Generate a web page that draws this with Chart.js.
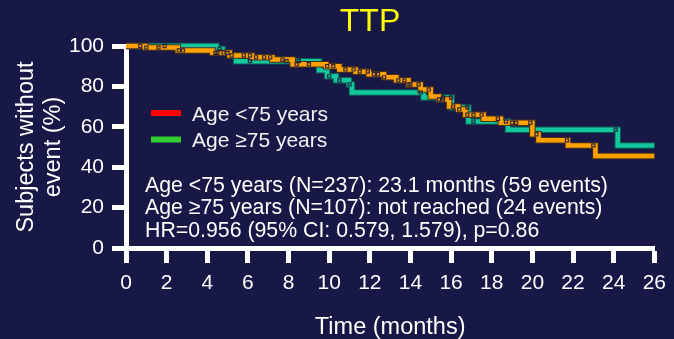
<!DOCTYPE html>
<html>
<head>
<meta charset="utf-8">
<script src="https://cdn.jsdelivr.net/npm/chart.js@4/dist/chart.umd.min.js"></script>
<style>
  html, body { margin: 0; padding: 0; background: #171846; }
  #wrap { width: 674px; height: 339px; }
</style>
</head>
<body>
<div id="wrap"><canvas id="c" width="674" height="339"></canvas></div>
<script>
// Text
const chartTitle = 'TTP';
const xTitle = 'Time (months)';
const yTitle = ['Subjects without', 'event (%)'];
const legendLabels = ['Age <75 years', 'Age \u226575 years'];
const summaryLines = [
  'Age <75 years (N=237): 23.1 months (59 events)',
  'Age \u226575 years (N=107): not reached (24 events)',
  'HR=0.956 (95% CI: 0.579, 1.579), p=0.86'
];

// Axis ticks
const xTicks = [0, 2, 4, 6, 8, 10, 12, 14, 16, 18, 20, 22, 24, 26];
const yTicks = [0, 20, 40, 60, 80, 100];

// Kaplan-Meier steps: time of each step (months) and % without event after it
const under75Months = [0, 0.95, 2.55, 4.25, 5.1, 6.2, 7.2, 8.2, 9.85, 10.5, 11.3, 11.95, 12.7, 13.3, 13.9, 14.5, 15.0, 15.4, 15.9, 16.35, 16.7, 17.6, 18.45, 20.0, 20.3, 21.75, 23.1, 26.0];
const under75Pct    = [100, 99.2, 97.8, 96.6, 95.3, 94.4, 93.3, 91.0, 90.0, 88.4, 87.3, 86.0, 84.5, 83.0, 81.0, 78.5, 75.0, 73.5, 70.0, 68.6, 66.0, 64.0, 62.0, 56.3, 53.3, 50.8, 45.6, 45.6];

const over75Months = [0, 4.45, 4.75, 5.1, 5.42, 9.5, 9.9, 10.33, 10.97, 11.12, 14.64, 16.03, 16.85, 18.8, 24.2, 26.0];
const over75Pct    = [100, 98.5, 96.8, 95.3, 92.5, 88.0, 85.0, 83.0, 81.0, 77.0, 74.5, 69.6, 62.6, 58.6, 50.8, 50.8];

// Censored observations (months)
const under75Censored = [1.0, 1.6, 2.6, 2.8, 4.4, 4.5, 5.0, 5.8, 6.1, 6.4, 6.8, 7.1, 7.7, 8.4, 9.0, 9.9, 10.2, 10.8, 11.2, 11.5, 11.9, 12.2, 12.4, 12.7, 13.4, 13.7, 13.9, 14.0, 14.4, 14.9, 15.4, 15.6, 16.1, 16.4, 16.8, 17.1, 17.5, 18.3, 19.0, 19.2, 19.9, 20.2, 21.7, 23.0];
const over75Censored  = [0.7, 1.9, 4.6, 4.8, 5.2, 6.1, 7.9, 8.5, 10.0, 10.5, 11.0, 14.5, 15.6, 16.0, 16.8, 17.1, 18.7, 24.1];

const FONT = "'Liberation Sans', Arial, Helvetica, sans-serif";
const WHITE = '#ffffff';
const ORANGE = '#ffa200';
const TEAL = '#12c79c';

function survivalAt(months, pct, t) {
  let v = pct[0];
  for (let i = 0; i < months.length; i++) {
    if (months[i] <= t) v = pct[i]; else break;
  }
  return v;
}
const toPoints = (m, p) => m.map((x, i) => ({ x: x, y: p[i] }));
const censorPoints = (c, m, p) => c.map(t => ({ x: t, y: survivalAt(m, p, t) }));

const stepLine = (data, color, width, order) => ({
  type: 'line', data: data, borderColor: color, borderWidth: width,
  stepped: 'before', pointRadius: 0, fill: false, clip: false, order: order,
  borderCapStyle: 'butt', borderJoinStyle: 'miter'
});
const censorSet = (data, order) => ({
  type: 'scatter', data: data, showLine: false, pointStyle: 'rect',
  pointRadius: 2.2, borderWidth: 1.2, borderColor: 'rgba(30,28,60,0.9)',
  backgroundColor: 'rgba(0,0,0,0)', clip: false, order: order
});

const overlay = {
  id: 'overlay',
  beforeDraw(chart) {
    const ctx = chart.ctx;
    ctx.save();
    ctx.fillStyle = '#171846';
    ctx.fillRect(0, 0, chart.width, chart.height);
    ctx.restore();
  },
  afterDraw(chart) {
    const ctx = chart.ctx;
    ctx.save();
    // title
    ctx.fillStyle = '#ffff00';
    ctx.font = '32px ' + FONT;
    ctx.textAlign = 'center';
    ctx.textBaseline = 'middle';
    ctx.fillText(chartTitle, 370, 22);
    // legend
    const legendColors = ['#ff0000', '#33cc33'];
    ctx.font = '21px ' + FONT;
    ctx.textAlign = 'left';
    legendLabels.forEach((lbl, i) => {
      const y = 113 + i * 26.5;
      ctx.fillStyle = legendColors[i];
      ctx.fillRect(151, y - 3, 30, 6);
      ctx.fillStyle = '#f2f2f2';
      ctx.fillText(lbl, 192, y + 2);
    });
    // summary text
    ctx.font = '21.3px ' + FONT;
    ctx.fillStyle = WHITE;
    summaryLines.forEach((line, i) => {
      ctx.fillText(line, 145, 186 + i * 22.5);
    });
    ctx.restore();
  }
};

const tickFont = { family: FONT, size: 21 };
const titleFont = { family: FONT, size: 23.5, lineHeight: 1.15 };

new Chart(document.getElementById('c'), {
  data: {
    datasets: [
      censorSet(censorPoints(under75Censored, under75Months, under75Pct), 0),
      censorSet(censorPoints(over75Censored, over75Months, over75Pct), 1),
      stepLine(toPoints(under75Months, under75Pct), ORANGE, 4.5, 2),
      stepLine(toPoints(under75Months, under75Pct), '#4a3018', 6.5, 3),
      stepLine(toPoints(over75Months, over75Pct), TEAL, 4.5, 4),
      stepLine(toPoints(over75Months, over75Pct), '#0d5a52', 6.5, 5)
    ]
  },
  options: {
    responsive: false,
    devicePixelRatio: 1,
    animation: false,
    layout: { padding: { top: 46, right: 17, left: 0, bottom: 0 } },
    plugins: { legend: { display: false }, tooltip: { enabled: false }, title: { display: false } },
    scales: {
      x: {
        type: 'linear', min: 0, max: 26,
        afterBuildTicks: s => { s.ticks = xTicks.map(v => ({ value: v })); },
        afterFit: s => { s.height = 91; },
        ticks: { color: WHITE, font: tickFont, padding: 8, maxRotation: 0, autoSkip: false },
        grid: { display: true, drawOnChartArea: false, drawTicks: true, tickLength: 15, tickWidth: 5, tickColor: WHITE },
        border: { display: true, color: WHITE, width: 5 },
        title: { display: true, text: xTitle, color: WHITE, font: titleFont, padding: { top: 0, bottom: -2 } }
      },
      y: {
        type: 'linear', min: 0, max: 100,
        afterBuildTicks: s => { s.ticks = yTicks.map(v => ({ value: v })); },
        afterFit: s => { s.width = 126; },
        ticks: { color: WHITE, font: tickFont, padding: 8 },
        grid: { display: true, drawOnChartArea: false, drawTicks: true, tickLength: 14, tickWidth: 5, tickColor: WHITE },
        border: { display: true, color: WHITE, width: 5 },
        title: { display: true, text: yTitle, color: WHITE, font: titleFont, padding: { top: 13, bottom: 0 } }
      }
    }
  },
  plugins: [overlay]
});
</script>
</body>
</html>
